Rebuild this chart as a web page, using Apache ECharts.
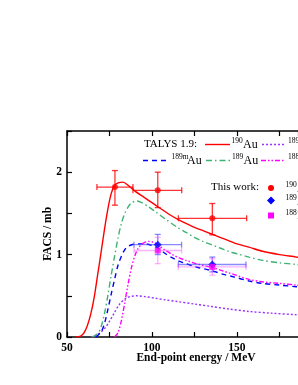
<!DOCTYPE html>
<html><head><meta charset="utf-8">
<script src="https://cdn.jsdelivr.net/npm/echarts@6/dist/echarts.min.js"></script>
<style>html,body{margin:0;padding:0;background:#fff}#c{width:298px;height:385px}</style>
</head><body><div id="c"></div>
<script>
// TALYS 1.9 curves [energy MeV, FACS mb]
const au190 = [[55,0],[58,0.01],[60,0.05],[62,0.14],[64,0.28],[66,0.48],[68,0.75],[70,1.02],[72,1.3],[74,1.55],[76,1.74],[78,1.84],[80,1.87],[83,1.88],[86,1.84],[90,1.77],[95,1.70],[100,1.63],[105,1.56],[110,1.49],[115,1.43],[120,1.38],[125,1.33],[130,1.29],[135,1.25],[140,1.21],[145,1.17],[150,1.13],[157,1.09],[165,1.04],[175,1.00],[185,0.97],[200,0.92]];
const pt189 = [[64,0],[68,0.03],[72,0.1],[75,0.19],[78,0.3],[81,0.4],[84,0.46],[87,0.49],[91,0.5],[96,0.49],[102,0.47],[108,0.45],[115,0.43],[125,0.4],[135,0.37],[145,0.34],[157,0.31],[170,0.29],[185,0.27],[200,0.25]];
const au189m = [[67,0],[70,0.06],[72,0.16],[74,0.33],[76,0.52],[78,0.7],[80,0.87],[82,0.98],[84,1.06],[86,1.1],[88,1.12],[92,1.13],[96,1.13],[100,1.11],[104,1.07],[108,1.01],[112,0.96],[116,0.92],[120,0.89],[126,0.85],[132,0.82],[136,0.8],[142,0.76],[148,0.73],[157,0.68],[165,0.65],[175,0.63],[185,0.61],[200,0.58]];
const au189 = [[65,0],[68,0.04],[70,0.12],[72,0.28],[74,0.5],[76,0.75],[78,0.98],[80,1.2],[82,1.38],[84,1.5],[86,1.58],[88,1.63],[91,1.65],[94,1.63],[98,1.58],[102,1.52],[108,1.43],[115,1.33],[120,1.27],[125,1.21],[130,1.16],[135,1.12],[140,1.08],[145,1.04],[150,1.01],[157,0.97],[165,0.93],[175,0.90],[185,0.88],[200,0.84]];
const pt188 = [[78,0],[80,0.05],[82,0.2],[84,0.42],[86,0.65],[88,0.85],[90,0.99],[92,1.08],[95,1.14],[98,1.16],[101,1.15],[104,1.11],[108,1.05],[112,1.0],[116,0.96],[120,0.93],[126,0.89],[132,0.86],[136,0.84],[142,0.8],[148,0.76],[157,0.7],[165,0.67],[175,0.65],[185,0.63],[200,0.6]];
// This work: [x, y, xLow, xHigh, yLow, yHigh]
const exp190 = [[78.2,1.82,67.6,88.8,1.60,2.02],[103.4,1.78,88.8,117.5,1.57,2.00],[135.5,1.44,115.5,155.7,1.24,1.62]];
const exp189 = [[103.4,1.12,89.4,117.4,1.00,1.245],[135.5,0.88,115.5,155.3,0.79,0.97]];
const exp188 = [[103.4,1.05,89.4,117.4,0.89,1.21],[135.5,0.85,115.5,155.3,0.75,0.95]];
const xTicks = [50,100,150];
const yTicks = [0,1,2];

const F = '"Liberation Serif", "Times New Roman", serif';
const chart = echarts.init(document.getElementById('c'), null, {renderer:'canvas'});

function errBar(color){
  return function(params, api){
    const x=api.value(0), y=api.value(1);
    const l=api.coord([api.value(2),y]), r=api.coord([api.value(3),y]);
    const b=api.coord([x,api.value(4)]), t=api.coord([x,api.value(5)]);
    const cap=3, st={stroke:color, lineWidth:1.3};
    return {type:'group', children:[
      {type:'line', shape:{x1:l[0],y1:l[1],x2:r[0],y2:r[1]}, style:st},
      {type:'line', shape:{x1:b[0],y1:b[1],x2:t[0],y2:t[1]}, style:st},
      {type:'line', shape:{x1:l[0],y1:l[1]-cap,x2:l[0],y2:l[1]+cap}, style:st},
      {type:'line', shape:{x1:r[0],y1:r[1]-cap,x2:r[0],y2:r[1]+cap}, style:st},
      {type:'line', shape:{x1:b[0]-cap,y1:b[1],x2:b[0]+cap,y2:b[1]}, style:st},
      {type:'line', shape:{x1:t[0]-cap,y1:t[1],x2:t[0]+cap,y2:t[1]}, style:st}
    ]};
  };
}
function curve(data,color,type){
  return {type:'line', data:data, showSymbol:false, smooth:0.3, lineStyle:{color:color,width:1.4,type:type}, z:3, silent:true, clip:true};
}
const axisCommon = {
  axisLine:{lineStyle:{color:'#000',width:1.5}},
  axisTick:{inside:true,length:5,lineStyle:{color:'#000',width:1.2}},
  splitLine:{show:false}
};
function txt(x,y,t,size,extra,bold){return {type:'text', x:x, y:y, style:Object.assign({text:t, font:(bold?'bold ':'')+size+'px '+F, fill:'#000', verticalAlign:'middle', align:'left'}, extra||{}), z:10};}
function iso(x,y,mass,el){
  const out=[txt(x,y-3,mass,7.5)];
  if(el) out.push(txt(x+ (mass.length>3?15.5:11.5),y,el,12));
  return out;
}
function seg(x1,x2,y,color,dash){return {type:'line', shape:{x1:x1,y1:y,x2:x2,y2:y}, style:{stroke:color,lineWidth:1.4,lineDash:dash}, z:10};}

chart.setOption({
  animation:false,
  grid:{left:67, top:131, right:0, height:206},
  xAxis:[Object.assign({type:'value', min:50, max:185.9, interval:25, position:'bottom',
    axisLabel:{fontFamily:F, fontWeight:'bold', fontSize:11.5, color:'#000', margin:5, showMaxLabel:false,
      formatter:v=>xTicks.indexOf(v)>=0?String(v):''}}, axisCommon),
    Object.assign({type:'value', min:50, max:185.9, interval:25, position:'top', axisLabel:{show:false}}, axisCommon)],
  yAxis:[Object.assign({type:'value', min:0, max:2.5, interval:0.5,
    axisLabel:{fontFamily:F, fontWeight:'bold', fontSize:11.5, color:'#000', margin:5,
      formatter:v=>yTicks.indexOf(v)>=0?String(v):''}}, axisCommon)],
  series:[
    curve(au190,'#ff0000','solid'),
    curve(pt189,'#9933ff',[2,2]),
    curve(au189m,'#0000ff',[5,4]),
    curve(au189,'#3cb371',[6,3,1.5,3]),
    curve(pt188,'#ff00ff',[5,2,1.5,2,1.5,2]),
    {type:'custom', data:exp190, renderItem:errBar('rgba(255,0,0,0.8)'), z:5, encode:{x:0,y:1}},
    {type:'custom', data:exp189, renderItem:errBar('rgba(60,60,255,0.6)'), z:5, encode:{x:0,y:1}},
    {type:'custom', data:exp188, renderItem:errBar('rgba(255,80,255,0.45)'), z:5, encode:{x:0,y:1}},
    {type:'scatter', data:exp190.map(d=>[d[0],d[1]]), symbol:'circle', symbolSize:6, itemStyle:{color:'#ff0000'}, z:6},
    {type:'scatter', data:exp189.map(d=>[d[0],d[1]]), symbol:'diamond', symbolSize:8, itemStyle:{color:'#0000ff'}, z:6},
    {type:'scatter', data:exp188.map(d=>[d[0],d[1]]), symbol:'rect', symbolSize:6, itemStyle:{color:'#ff00ff'}, z:6}
  ],
  graphic:[].concat(
    [txt(196,358,'End-point energy / MeV',11.5,{align:'center'},true),
     Object.assign(txt(48,234,'FACS / mb',11.5,{align:'center'},true),{rotation:Math.PI/2}),
     txt(144,144.5,'TALYS 1.9:',11),
     seg(205,230,144.5,'#ff0000',null),
     seg(262,286,144.5,'#9933ff',[2,2]),
     seg(143,166,160.5,'#0000ff',[5,4]),
     seg(206,231,160.5,'#3cb371',[6,3,1.5,3]),
     seg(261,285,160.5,'#ff00ff',[5,2,1.5,2,1.5,2]),
     txt(211,187.5,'This work:',11),
     {type:'circle', shape:{cx:271,cy:188,r:3}, style:{fill:'#ff0000'}, z:10},
     {type:'polygon', shape:{points:[[271,196.5],[275,200.5],[271,204.5],[267,200.5]]}, style:{fill:'#0000ff'}, z:10},
     {type:'rect', shape:{x:268,y:212.5,width:6,height:6}, style:{fill:'#ff00ff'}, z:10}],
    iso(231.5,144.5,'190','Au'),
    iso(288,144.5,'189','Pt'),
    iso(171.5,160.5,'189m','Au'),
    iso(232,160.5,'189','Au'),
    iso(288,160.5,'188','Pt'),
    iso(285.5,188.5,'190','Au'),
    iso(285.5,201.5,'189','Au'),
    iso(285.5,216,'188','Pt')
  )
});
</script></body></html>
